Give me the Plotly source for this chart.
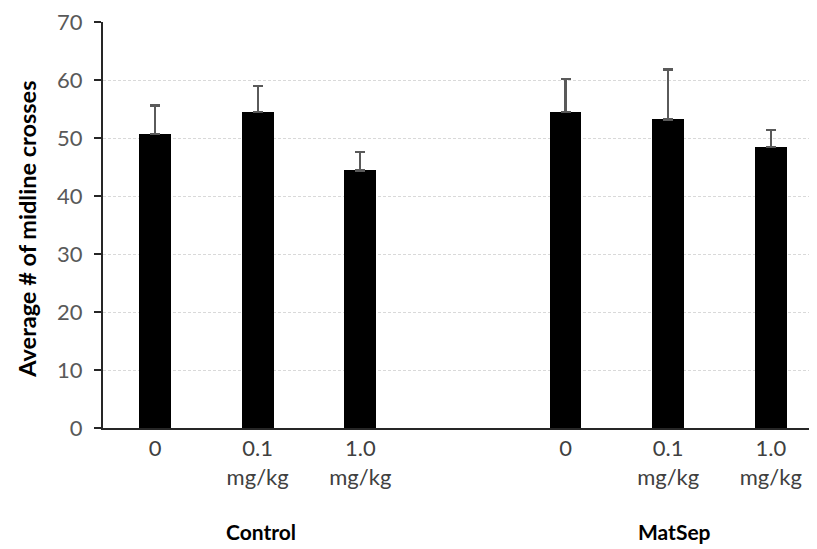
import plotly.graph_objects as go

groups = ["Control", "MatSep"]
dose_labels = ["0", "0.1<br>mg/kg", "1.0<br>mg/kg", "0", "0.1<br>mg/kg", "1.0<br>mg/kg"]
positions = [0, 1, 2, 4, 5, 6]
means = [50.7, 54.5, 44.4, 54.5, 53.2, 48.4]
errors = [4.9, 4.5, 3.2, 5.7, 8.6, 3.0]
group_centers = [1.03, 5.06]
y_ticks = [0, 10, 20, 30, 40, 50, 60, 70]
y_title = "Average # of midline crosses"

FONT = "Lato"

fig = go.Figure()
fig.add_trace(go.Bar(
    x=positions, y=means, width=0.31,
    marker=dict(color="black", line=dict(color="black", width=0)),
    error_y=dict(type="data", array=errors, arrayminus=[0] * len(errors),
                 symmetric=False, color="#5a5a5a", thickness=2.2, width=5),
    showlegend=False,
))

for g, c in zip(groups, group_centers):
    fig.add_annotation(x=c, y=-0.256, xref="x", yref="paper", text="<b>%s</b>" % g,
                       showarrow=False, font=dict(family=FONT, size=21, color="black"),
                       yanchor="middle")

fig.add_annotation(x=-0.106, y=0.489, xref="paper", yref="paper",
                   text="<b>%s</b>" % y_title, textangle=-90, showarrow=False,
                   xanchor="center", yanchor="middle",
                   font=dict(family=FONT, size=23.5, color="black"))

fig.update_layout(
    width=809, height=541,
    margin=dict(l=95, r=0, t=14, b=121),
    plot_bgcolor="white", paper_bgcolor="white",
    bargap=0,
    xaxis=dict(range=[-0.507, 6.45], tickvals=positions, ticktext=dose_labels,
               showline=True, linecolor="#262626", linewidth=2, ticks="",
               showgrid=False, zeroline=False, automargin=False,
               tickfont=dict(family=FONT, size=22, color="#404040")),
    yaxis=dict(range=[0, 70], tickvals=y_ticks,
               showline=True, linecolor="#262626",
               linewidth=2, ticks="outside", ticklen=7, tickwidth=2, tickcolor="#262626",
               showgrid=True, gridcolor="#d9d9d9", gridwidth=1, griddash="3px,2px",
               zeroline=False, automargin=False, ticklabeloverflow="allow",
               ticklabelstandoff=7,
               tickfont=dict(family=FONT, size=22, color="#595959")),
)

fig.write_html("out.html")
